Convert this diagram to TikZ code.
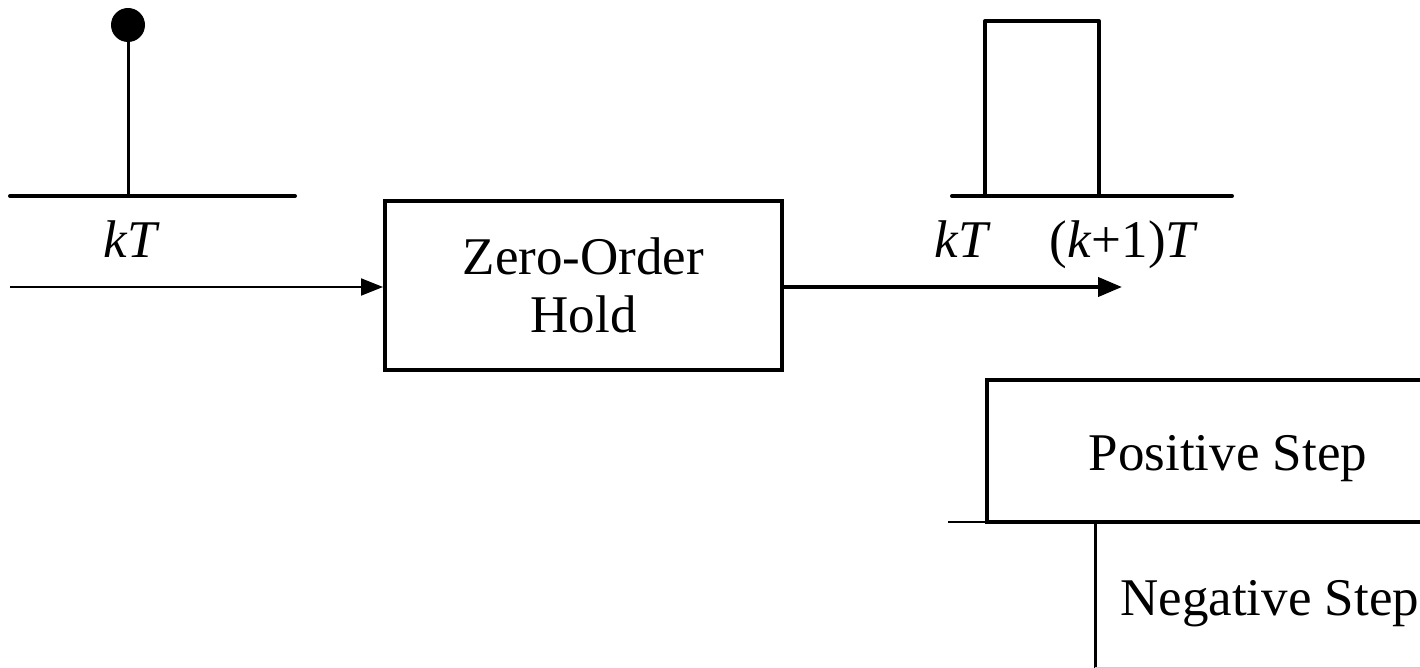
\documentclass[tikz,border=0pt]{standalone}
\usepackage{fontspec}
\setmainfont{Liberation Serif}
\usetikzlibrary{arrows.meta}
\tikzset{
  lbl/.style={anchor=base, inner sep=0pt, font=\fontsize{53}{58}\selectfont},
  blockbox/.style={draw, line width=4pt, minimum width=397pt, minimum height=169pt, align=center, inner sep=0pt, font=\fontsize{53}{58}\selectfont},
  axis/.style={line width=4pt, line cap=round},
  thinarrow/.style={line width=2pt, -{Triangle[length=22pt,width=17pt]}},
  thickarrow/.style={line width=4pt, -{Triangle[length=24pt,width=19pt]}},
}
\begin{document}
\begin{tikzpicture}[x=1pt,y=-1pt]
\useasboundingbox (0,0) rectangle (1420,668);
\clip (0,0) rectangle (1420,668);
% left sample
\coordinate (a0) at (10,196);
\coordinate (a1) at (295,196);
\coordinate (s0) at (128,196);
\node[circle, fill, inner sep=0pt, minimum size=34pt] (dot) at (128,25) {};
\draw[axis] (a0) -- (a1);
\draw[line width=3pt] (s0) -- (dot.center);
\node[lbl] (kt1) at (132,258) {\textit{kT}};
% block
\node[blockbox] (zoh) at (583.5,285.5) {Zero-Order\\Hold};
\coordinate (in) at (10,287);
\draw[thinarrow] (in) -- (in -| zoh.west);
\coordinate (out) at (1122,287);
\draw[thickarrow] (out -| zoh.east) -- (out);
% pulse
\coordinate (b0) at (952,196);
\coordinate (b1) at (1232,196);
\draw[axis] (b0) -- (b1);
\draw[line width=4pt, line join=round] (985,196) -- (985,21) -- (1099,21) -- (1099,196);
\node[lbl] (kt2) at (963,258) {\textit{kT}};
\node[lbl] (k1t) at (1124,258) {(\textit{k}+1)\textit{T}};
% steps
\draw[line width=2pt] (948,522) -- (987,522);
\draw[line width=4pt, line join=miter] (1430,380) -- (987,380) -- (987,522) -- (1430,522);
\draw[line width=3pt] (1095,522) -- (1095,680);
\draw[line width=1pt, gray!40] (1095,667) -- (1430,667);
\node[lbl] (pos) at (1228,470) {Positive Step};
\node[lbl, anchor=base west] (neg) at (1120,615) {Negative Step};
\end{tikzpicture}
\end{document}
